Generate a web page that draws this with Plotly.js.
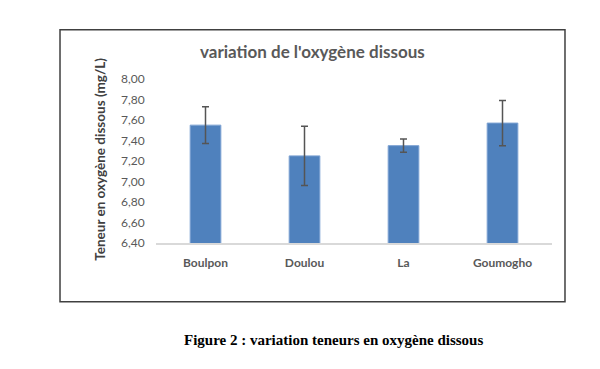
<!DOCTYPE html>
<html><head><meta charset="utf-8">
<script src="https://cdn.plot.ly/plotly-3.0.1.min.js"></script>
<style>html,body{margin:0;padding:0;background:#fff;}#chart{width:600px;height:369px;}</style>
</head><body><div id="chart"></div>
<script>
const sites = ["Boulpon", "Doulou", "La", "Goumogho"];
const oxygen = [7.55, 7.25, 7.35, 7.57];
const errors = [0.18, 0.29, 0.065, 0.22];
const yTicks = [6.4, 6.6, 6.8, 7.0, 7.2, 7.4, 7.6, 7.8, 8.0];

const font = "Lato, 'Open Sans', sans-serif";
const trace = {
  type: "bar", x: sites, y: oxygen,
  marker: {color: "#4f81bd", line: {color: "#7ea3d3", width: 1}},
  error_y: {type: "data", array: errors, visible: true, color: "#555555", thickness: 1.5, width: 3.5}
};
const layout = {
  width: 600, height: 369,
  margin: {l: 156, r: 48, t: 79, b: 126},
  paper_bgcolor: "#fff", plot_bgcolor: "#fff",
  showlegend: false, bargap: 0.69,
  separators: ", ",
  xaxis: {showline: true, linecolor: "#d9d9d9", linewidth: 1.5, showgrid: false, zeroline: false,
          ticks: "outside", ticklen: 8, tickcolor: "rgba(0,0,0,0)",
          tickfont: {family: font, size: 12, color: "#595959", weight: "bold"}},
  yaxis: {range: [6.4, 8.0], tickvals: yTicks, tickformat: ".2f", showgrid: false, zeroline: false,
          showline: false, ticks: "outside", ticklen: 8, tickcolor: "rgba(0,0,0,0)",
          tickfont: {family: font, size: 12, color: "#595959"}},
  shapes: [{type: "rect", xref: "paper", yref: "paper", x0: -0.2424, x1: 1.0328, y0: -0.358, y1: 1.3006,
            line: {color: "#404040", width: 1.5}, layer: "below"}],
  annotations: [
    {text: "variation de l'oxygène dissous", xref: "paper", yref: "paper", x: 0.394, y: 1.1665,
     xanchor: "center", yanchor: "middle", showarrow: false,
     font: {family: font, size: 17, color: "#595959", weight: "bold"}},
    {text: "Teneur en oxygène dissous (mg/L)", xref: "paper", yref: "paper", x: -0.1414, y: 0.508,
     xanchor: "center", yanchor: "middle", textangle: -90, showarrow: false,
     font: {family: font, size: 13.5, color: "#404040", weight: "bold"}},
    {text: "Figure 2 : variation teneurs en oxygène dissous", xref: "paper", yref: "paper", x: 0.447, y: -0.59,
     xanchor: "center", yanchor: "middle", showarrow: false,
     font: {family: "'Liberation Serif', serif", size: 15, color: "#000", weight: "bold"}}
  ]
};
Plotly.newPlot("chart", [trace], layout, {displayModeBar: false, staticPlot: true});
</script></body></html>
